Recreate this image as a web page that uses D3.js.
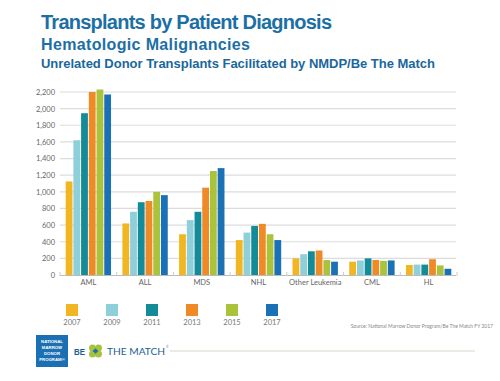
<!DOCTYPE html>
<html><head><meta charset="utf-8">
<script src="https://cdn.jsdelivr.net/npm/d3@7"></script>
<style>body{margin:0;background:#fff}svg{display:block}</style>
</head><body>
<script>
const categories = ["AML","ALL","MDS","NHL","Other Leukemia","CML","HL"];
const years = ["2007","2009","2011","2013","2015","2017"];
const v2007 = [1125, 620, 490, 420, 200, 160, 120];
const v2009 = [1620, 760, 660, 510, 250, 175, 125];
const v2011 = [1945, 875, 760, 590, 285, 200, 125];
const v2013 = [2200, 890, 1050, 615, 295, 180, 190];
const v2015 = [2230, 1000, 1250, 490, 180, 170, 115];
const v2017 = [2170, 960, 1285, 420, 160, 175, 75];
const series = [v2007, v2009, v2011, v2013, v2015, v2017];
const colors = ["#F3B623","#8FCFDA","#148B98","#EE8B27","#AAC33B","#1A71B6"];
const yTicks = [0,200,400,600,800,1000,1200,1400,1600,1800,2000,2200];

const W=500,H=381;
const svg=d3.select("body").append("svg").attr("width",W).attr("height",H);
const font="'Liberation Sans', Arial, sans-serif";
const lfont="Lato, 'Open Sans', sans-serif";

// Titles
svg.append("text").attr("x",41).attr("y",29).attr("font-family",font).attr("font-weight","bold")
  .attr("font-size",20).attr("fill","#1C6FA5").attr("textLength",291).text("Transplants by Patient Diagnosis");
svg.append("text").attr("x",41).attr("y",50).attr("font-family",font).attr("font-weight","bold")
  .attr("font-size",16).attr("fill","#1C6FA5").attr("textLength",209).text("Hematologic Malignancies");
svg.append("text").attr("x",41).attr("y",68).attr("font-family",font).attr("font-weight","bold")
  .attr("font-size",13).attr("fill","#1A679C").attr("textLength",394).text("Unrelated Donor Transplants Facilitated by NMDP/Be The Match");

const x0=d3.scaleBand().domain(categories).range([60,457]).paddingInner(0.2).paddingOuter(0.1);
const x1=d3.scaleBand().domain(years).range([0,x0.bandwidth()]).paddingInner(0.12);
const y=d3.scaleLinear().domain([0,2200]).range([275,92]);

// grid
const g=svg.append("g");
g.selectAll("line.grid").data(yTicks.filter(d=>d>0)).join("line")
  .attr("x1",60).attr("x2",456).attr("y1",d=>y(d)).attr("y2",d=>y(d))
  .attr("stroke","#DCDCDC").attr("stroke-width",1.2);

// y axis labels
const yAxis=d3.axisLeft(y).tickValues(yTicks).tickSize(0).tickPadding(0).tickFormat(d3.format(","));
const ya=svg.append("g").attr("transform","translate(55,0)").call(yAxis);
ya.select(".domain").remove();
ya.selectAll("text").attr("font-family",lfont).attr("font-size",7.5).attr("fill","#666");

// bars
const cg=svg.append("g").selectAll("g").data(categories).join("g")
  .attr("transform",d=>`translate(${x0(d)},0)`);
cg.selectAll("rect").data((d,i)=>years.map((yr,j)=>({yr,v:series[j][i],c:colors[j]}))).join("rect")
  .attr("x",d=>x1(d.yr)).attr("width",x1.bandwidth())
  .attr("y",d=>y(d.v)).attr("height",d=>y(0)-y(d.v)).attr("fill",d=>d.c);

// baseline + x axis
const xAxis=d3.axisBottom(x0).tickSize(0).tickPadding(5);
const xa=svg.append("g").attr("transform","translate(0,275)").call(xAxis);
xa.select(".domain").remove();
xa.selectAll("text").attr("font-family",lfont).attr("font-size",7.5).attr("fill","#666");
svg.append("line").attr("x1",60).attr("x2",456).attr("y1",275.5).attr("y2",275.5).attr("stroke","#BBB").attr("stroke-width",1);
const step=x0.step();
svg.selectAll("line.sep").data(d3.range(0,8)).join("line")
  .attr("x1",d=>60+d*step).attr("x2",d=>60+d*step).attr("y1",272).attr("y2",276)
  .attr("stroke","#CCC").attr("stroke-width",1);

// legend
const lg=svg.append("g").selectAll("g").data(years).join("g")
  .attr("transform",(d,i)=>`translate(${66+i*40},304)`);
lg.append("rect").attr("width",12).attr("height",12).attr("fill",(d,i)=>colors[i]);
lg.append("text").attr("x",6).attr("y",21).attr("text-anchor","middle").attr("font-family",lfont)
  .attr("font-size",7.5).attr("fill","#777").text(d=>d);

// source
svg.append("text").attr("x",493).attr("y",328).attr("text-anchor","end").attr("font-family",lfont)
  .attr("font-size",5).attr("fill","#888").text("Source: National Marrow Donor Program/Be The Match FY 2017");

// logo
svg.append("rect").attr("x",36).attr("y",335).attr("width",32).attr("height",32).attr("fill","#1B6FB3");
["NATIONAL","MARROW","DONOR","PROGRAM®"].forEach((t,i)=>{
  svg.append("text").attr("x",52).attr("y",343+i*6).attr("text-anchor","middle").attr("font-family",font)
    .attr("font-weight","bold").attr("font-size",4.3).attr("fill","#fff").text(t);
});
svg.append("text").attr("x",74).attr("y",354.5).attr("font-family",font).attr("font-weight","bold")
  .attr("font-size",9.5).attr("fill","#1B5E94").attr("textLength",11).attr("lengthAdjust","spacingAndGlyphs").text("BE");
const cl=svg.append("g").attr("transform","translate(95.5,351)");
[[-3,-3],[3,-3],[-3,3],[3,3]].forEach(([dx,dy])=>{
  cl.append("circle").attr("cx",dx).attr("cy",dy).attr("r",3.5).attr("fill","#A7C23C");
});
cl.append("rect").attr("x",-2).attr("y",-2).attr("width",4).attr("height",4).attr("fill","#1B6FB3").attr("transform","rotate(45)");
svg.append("text").attr("x",107).attr("y",354.5).attr("font-family",lfont)
  .attr("font-size",9.5).attr("fill","#1B5E94").attr("textLength",58).attr("lengthAdjust","spacingAndGlyphs").text("THE MATCH");
svg.append("text").attr("x",166).attr("y",348).attr("font-family",lfont)
  .attr("font-size",3).attr("fill","#1B5E94").text("®");
svg.append("line").attr("x1",170).attr("x2",475).attr("y1",351).attr("y2",351).attr("stroke","#D8D5C8").attr("stroke-width",1);
</script>
</body></html>
